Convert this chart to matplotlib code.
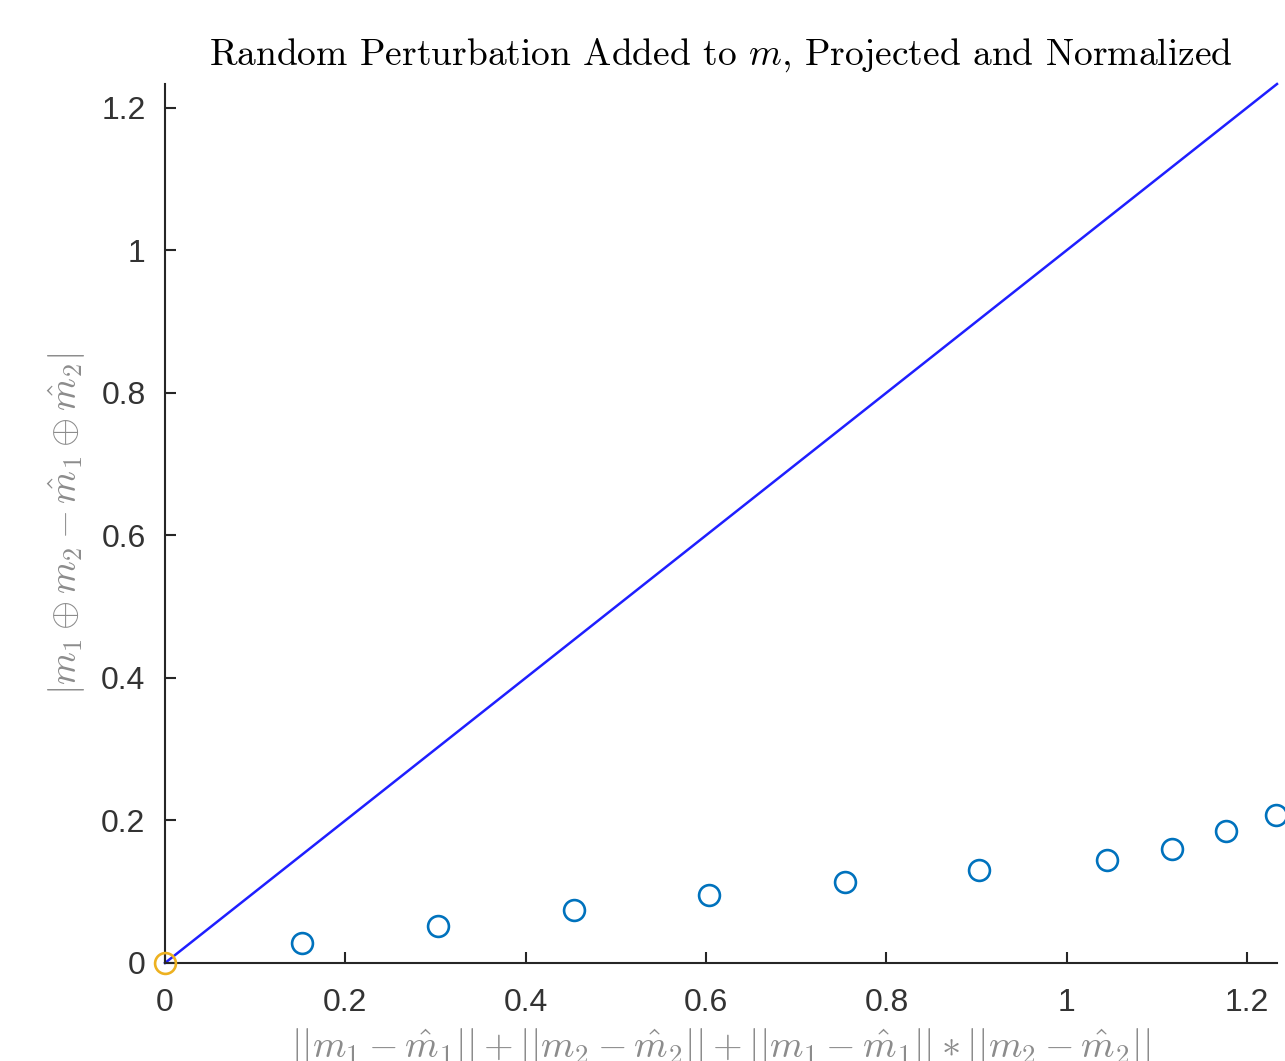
import numpy as np
import matplotlib
matplotlib.use("Agg")
import matplotlib.pyplot as plt

# perturbation sum (x) vs. error of the composition (y)
perturb_x = [0.152, 0.303, 0.454, 0.603, 0.754, 0.903, 1.045, 1.117, 1.176, 1.232]
error_y = [0.028, 0.052, 0.074, 0.095, 0.114, 0.131, 0.145, 0.160, 0.185, 0.208]
origin_x = [0.0]
origin_y = [0.0]
bound_x = [0.0, 1.233]
bound_y = [0.0, 1.233]
ticks = [0, 0.2, 0.4, 0.6, 0.8, 1, 1.2]
tick_labels = ["0", "0.2", "0.4", "0.6", "0.8", "1", "1.2"]

plt.rcParams['mathtext.fontset'] = 'cm'
plt.rcParams['font.family'] = ['Liberation Sans', 'DejaVu Sans']

fig = plt.figure(figsize=(12.85, 10.61), dpi=100)
ax = fig.add_axes([165 / 1285, 98 / 1061, 1112 / 1285, 879 / 1061])

ax.plot(bound_x, bound_y, color=(0.12, 0.12, 1.0), lw=1.8, clip_on=False, zorder=2)
ax.plot(perturb_x, error_y, 'o', mfc='none', mec='#0072BD', ms=15, mew=1.9,
        clip_on=False, zorder=3)
ax.plot(origin_x, origin_y, 'o', mfc='none', mec='#EDB120', ms=15, mew=1.9,
        clip_on=False, zorder=3)

ax.set_xlim(0, 1.233)
ax.set_ylim(0, 1.233)
ax.set_xticks(ticks)
ax.set_xticklabels(tick_labels)
ax.set_yticks(ticks)
ax.set_yticklabels(tick_labels)

for side in ['top', 'right']:
    ax.spines[side].set_visible(False)
for side in ['left', 'bottom']:
    ax.spines[side].set_color('#262626')
    ax.spines[side].set_linewidth(1.5)

ax.tick_params(direction='in', length=8, width=1.5, color='#262626',
               labelcolor='#333333', labelsize=23)
ax.tick_params(axis='x', pad=18)
ax.tick_params(axis='y', pad=14)

ax.set_title("Random Perturbation Added to $m$, Projected and Normalized",
             fontsize=27, family='cmr10', color='black', pad=14)
ax.set_xlabel(r"$||m_1-\hat{m}_1||+||m_2-\hat{m}_2||+||m_1-\hat{m}_1||*||m_2-\hat{m}_2||$",
              fontsize=27.5, color='#8c8c8c', labelpad=6)
ax.set_ylabel(r"$|m_1\oplus m_2-\hat{m}_1\oplus \hat{m}_2|$",
              fontsize=27, color='#8c8c8c', labelpad=10)

fig.savefig("out.png", dpi=100)
